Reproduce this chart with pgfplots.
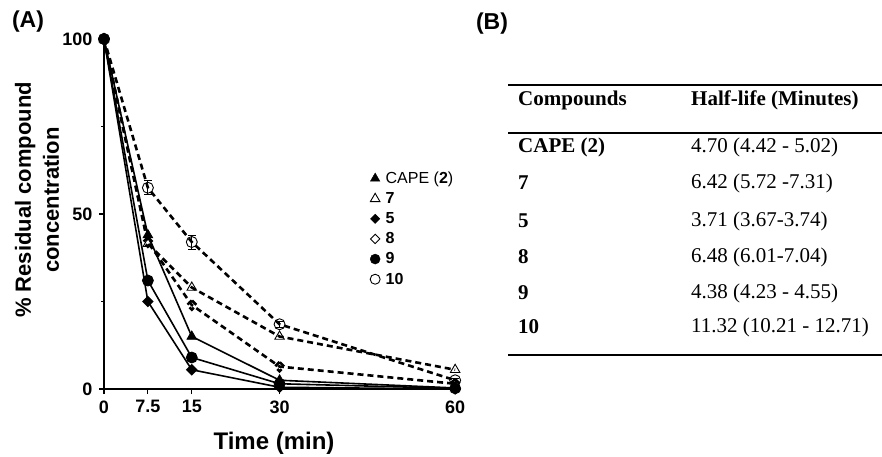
\documentclass[border=0pt]{standalone}
\usepackage{fontspec}
\setmainfont{Liberation Sans}
\newfontfamily\tnr{Liberation Serif}
\usepackage{pgfplots}
\pgfplotsset{compat=1.18}

\pgfplotsset{
  solidser/.style={black, line width=1.6pt, mark options={solid, fill=black, line width=0.8pt}},
  dashser/.style={black, line width=2.6pt, dash pattern=on 6pt off 4pt, mark options={solid, fill=white, line width=0.9pt}},
}

\begin{document}
\begin{tikzpicture}
\useasboundingbox (0,0) rectangle (882pt,456pt);
\begin{axis}[
  at={(104pt,67pt)}, anchor=south west,
  scale only axis, width=357pt, height=350pt,
  xmin=0, xmax=61, ymin=0, ymax=100,
  axis lines*=left, axis line style={line width=1.6pt},
  clip=false,
  xtick={0,7.5,15,30,60}, xticklabels={0,7.5,15,30,60},
  ytick={0,50,100}, minor ytick={25,75},
  tick align=outside, major tick length=5pt, minor tick length=3pt,
  tick style={line width=1.2pt, black},
  ticklabel style={font=\bfseries\fontsize{18}{18}\selectfont},
  xticklabel style={yshift=-3pt},
  yticklabel style={xshift=-3pt},
  /pgf/number format/assume math mode=true,
  legend style={at={(0.745,0.625)}, anchor=north west, draw=none, fill=none,
    font=\fontsize{16}{16}\selectfont, row sep=4.5pt, inner sep=0pt,
    nodes={inner sep=1.5pt},
    /tikz/every odd column/.append style={column sep=4pt}},
  legend cell align=left,
]
% CAPE (2)
\addplot[solidser, mark=triangle*, mark size=5.5pt, forget plot] coordinates {(0,100)(7.5,44)(15,15)(30,2.5)(60,0.3)};
% 5
\addplot[solidser, mark=square*, mark size=3.3pt, mark options={rotate=45}, forget plot] coordinates {(0,100)(7.5,25)(15,5.5)(30,0.5)(60,0)};
% 9
\addplot[solidser, mark=*, mark size=5.5pt, forget plot] coordinates {(0,100)(7.5,31)(15,9)(30,1.5)(60,0.2)};
% 8
\addplot[dashser, mark=square, mark size=3.3pt, mark options={rotate=45}, forget plot] coordinates {(0,100)(7.5,42)(15,24)(30,6.4)(60,1.5)};
% 7
\addplot[dashser, mark=triangle, mark size=5.5pt, forget plot] coordinates {(0,100)(7.5,41.5)(15,29)(30,15)(60,5.5)};
% 10
\addplot[dashser, mark=o, mark size=5.5pt, forget plot,
  error bars/.cd, y dir=both, y explicit,
  error bar style={line width=0.8pt, solid},
  error mark options={rotate=90, mark size=4pt, line width=0.8pt, solid}]
  coordinates {(0,100) +- (0,0) (7.5,57.5) +- (0,2) (15,42) +- (0,2) (30,18.5) +- (0,0.8) (60,2.5) +- (0,0.5)};

\addlegendimage{only marks, black, mark=triangle*, mark size=5.5pt}
\addlegendentry{CAPE (\textbf{2})}
\addlegendimage{only marks, black, mark=triangle, mark size=5.5pt, mark options={line width=0.9pt}}
\addlegendentry{\textbf{7}}
\addlegendimage{only marks, black, mark=square*, mark size=3.3pt, mark options={rotate=45}}
\addlegendentry{\textbf{5}}
\addlegendimage{only marks, black, mark=square, mark size=3.3pt, mark options={rotate=45, line width=0.9pt}}
\addlegendentry{\textbf{8}}
\addlegendimage{only marks, black, mark=*, mark size=5pt}
\addlegendentry{\textbf{9}}
\addlegendimage{only marks, black, mark=o, mark size=5pt, mark options={line width=0.9pt}}
\addlegendentry{\textbf{10}}
\end{axis}

% panel labels and axis titles
\node[font=\bfseries\fontsize{23}{23}\selectfont] at (28pt,434pt) {(A)};
\node[font=\bfseries\fontsize{23}{23}\selectfont] at (492pt,432pt) {(B)};
\node[rotate=90, align=center, font=\bfseries\fontsize{22}{28}\selectfont] at (37pt,256pt) {\% Residual compound\\concentration};
\node[font=\bfseries\fontsize{24}{24}\selectfont] at (274pt,13pt) {Time (min)};

% table (B)
\draw[line width=2pt] (508pt,371pt) -- (882pt,371pt);
\draw[line width=2pt] (508pt,323pt) -- (882pt,323pt);
\draw[line width=2pt] (508pt,101pt) -- (882pt,101pt);
\begin{scope}[every node/.style={anchor=west, inner sep=0pt, font=\tnr\fontsize{21}{21}\selectfont}]
\node at (518pt,356pt) {\textbf{Compounds}};
\node at (691pt,356pt) {\textbf{Half-life (Minutes)}};
\node at (518pt,309pt) {\textbf{CAPE (2)}};
\node at (691pt,309pt) {4.70 (4.42 - 5.02)};
\node at (518pt,273pt) {\textbf{7}};
\node at (691pt,273pt) {6.42 (5.72 -7.31)};
\node at (518pt,235pt) {\textbf{5}};
\node at (691pt,235pt) {3.71 (3.67-3.74)};
\node at (518pt,199pt) {\textbf{8}};
\node at (691pt,199pt) {6.48 (6.01-7.04)};
\node at (518pt,163pt) {\textbf{9}};
\node at (691pt,163pt) {4.38 (4.23 - 4.55)};
\node at (518pt,129pt) {\textbf{10}};
\node at (691pt,129pt) {11.32 (10.21 - 12.71)};
\end{scope}
\end{tikzpicture}
\end{document}
